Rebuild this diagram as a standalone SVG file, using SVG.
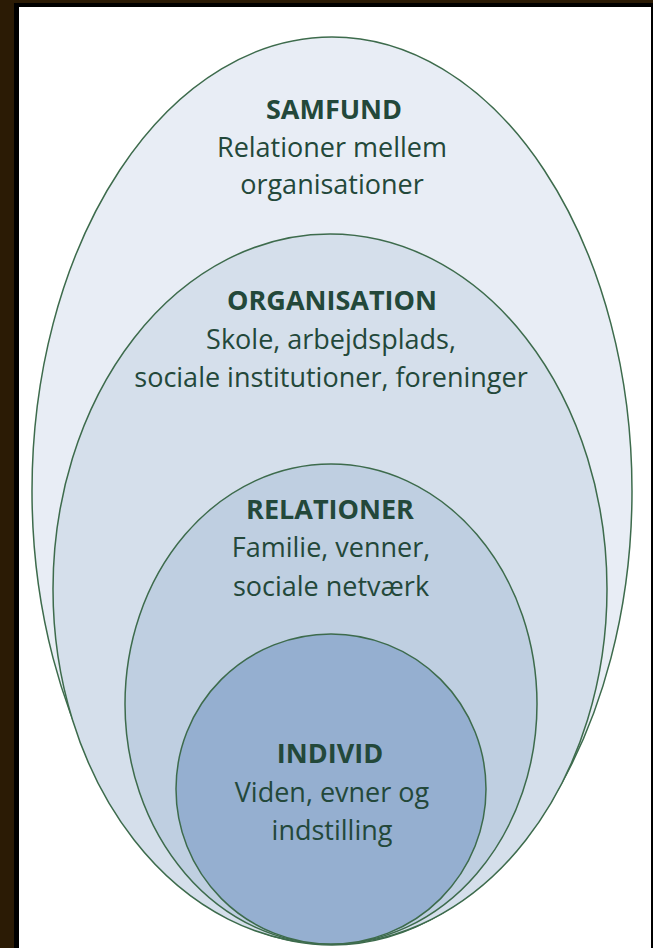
<svg xmlns="http://www.w3.org/2000/svg" width="653" height="948" viewBox="0 0 653 948">
<style>
.ring{stroke:#3d6b4c;stroke-width:1.5}
.t{font-family:"Open Sans","Liberation Sans",sans-serif;font-size:27px;fill:#23483a;text-anchor:middle}
.b{font-weight:bold}
</style>
<rect x="0" y="0" width="653" height="948" fill="#2b1b05"/>
<rect x="14" y="3" width="639" height="945" fill="#000"/>
<rect x="19" y="7" width="632" height="941" fill="#fff"/>
<g id="samfund">
<ellipse class="ring" cx="332" cy="491" rx="300" ry="454" fill="#e8edf5"/>
<text class="t b" x="334" y="119">SAMFUND</text>
<text class="t" x="332" y="157">Relationer mellem</text>
<text class="t" x="332" y="194">organisationer</text>
</g>
<g id="organisation">
<ellipse class="ring" cx="330" cy="589" rx="277" ry="355" fill="#d5dfeb"/>
<text class="t b" x="332" y="310">ORGANISATION</text>
<text class="t" x="331" y="349">Skole, arbejdsplads,</text>
<text class="t" x="331" y="387">sociale institutioner, foreninger</text>
</g>
<g id="relationer">
<ellipse class="ring" cx="331" cy="704" rx="206" ry="240" fill="#bfcfe1"/>
<text class="t b" x="330" y="519">RELATIONER</text>
<text class="t" x="331" y="557">Familie, venner,</text>
<text class="t" x="331" y="596">sociale netværk</text>
</g>
<g id="individ">
<ellipse class="ring" cx="331" cy="789" rx="155" ry="155" fill="#95afd0"/>
<text class="t b" x="330" y="763">INDIVID</text>
<text class="t" x="332" y="802">Viden, evner og</text>
<text class="t" x="332" y="840">indstilling</text>
</g>
<g id="connectors"/>
</svg>
